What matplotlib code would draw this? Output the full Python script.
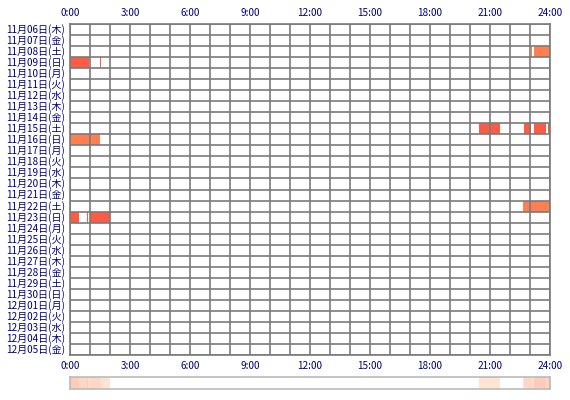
import numpy as np
import matplotlib
matplotlib.use("Agg")
import matplotlib.pyplot as plt

plt.rcParams['font.family'] = ['Noto Sans CJK JP', 'DejaVu Sans']

# ---- data ----
day_labels = [
    "11月06日(木)", "11月07日(金)", "11月08日(土)", "11月09日(日)", "11月10日(月)",
    "11月11日(火)", "11月12日(水)", "11月13日(木)", "11月14日(金)", "11月15日(土)",
    "11月16日(日)", "11月17日(月)", "11月18日(火)", "11月19日(水)", "11月20日(木)",
    "11月21日(金)", "11月22日(土)", "11月23日(日)", "11月24日(月)", "11月25日(火)",
    "11月26日(水)", "11月27日(木)", "11月28日(金)", "11月29日(土)", "11月30日(日)",
    "12月01日(月)", "12月02日(火)", "12月03日(水)", "12月04日(木)", "12月05日(金)",
]
time_ticks = [0, 3, 6, 9, 12, 15, 18, 21, 24]
time_labels = ["0:00", "3:00", "6:00", "9:00", "12:00", "15:00", "18:00", "21:00", "24:00"]

# sessions: day row index, start "H:MM", end "H:MM"
session_day   = [2, 2, 3, 3, 9, 9, 9, 9, 10, 16, 17, 17, 17]
session_start = ["23:03", "23:12", "0:00", "1:30", "20:27", "22:42", "23:12", "23:54",
                 "0:00", "22:39", "0:00", "0:51", "1:00"]
session_end   = ["23:06", "24:00", "0:57", "1:33", "21:30", "23:03", "23:48", "24:00",
                 "1:30", "24:00", "0:27", "0:54", "2:00"]
session_color = ["#FF7F50", "#FF7F50", "#FF5A44", "#FF5A44", "#FF5A44", "#FF5A44",
                 "#FF5A44", "#FF5A44", "#FF7F50", "#FF7F50", "#FF5A44", "#FF5A44", "#FF5A44"]

def to_min(s):
    h, m = s.split(":")
    return int(h) * 60 + int(m)

starts = np.array([to_min(s) for s in session_start])
ends = np.array([to_min(s) for s in session_end])

grid_col = "#7a7a7a"
text_col = "#000080"
fs = 7.2

fig = plt.figure(figsize=(5.7, 4.0), dpi=100)
ax = fig.add_axes([70/570, 1 - 355/400, 480/570, 331/400])
n = len(day_labels)
ax.set_xlim(0, 1440)
ax.set_ylim(n, 0)

ax.barh(np.array(session_day) + 0.5, ends - starts, left=starts, height=1.0,
        color=session_color, zorder=2, linewidth=0)

for h in range(25):
    ax.axvline(h * 60, color=grid_col, lw=1.2, zorder=3)
for r in range(n + 1):
    ax.axhline(r, color=grid_col, lw=1.2, zorder=3)
for s in ax.spines.values():
    s.set_color(grid_col)
    s.set_linewidth(1.2)

ax.set_xticks([])
ax.set_yticks([])
for i, lab in enumerate(day_labels):
    ax.text(-15, i + 0.5, lab, ha="right", va="center", fontsize=fs, color=text_col)
for t, lab in zip(time_ticks, time_labels):
    ax.text(t * 60, -0.55, lab, ha="center", va="bottom", fontsize=fs, color=text_col)
    ax.text(t * 60, n + 0.55, lab, ha="center", va="top", fontsize=fs, color=text_col)

# ---- summary strip ----
counts = np.zeros(1440, dtype=int)
for a, b in zip(starts, ends):
    counts[a:b] += 1
level_colors = {0: (1, 1, 1), 1: (1.0, 0.894, 0.831), 2: (1.0, 0.847, 0.784), 3: (1.0, 0.800, 0.735)}
img = np.array([[level_colors[min(c, 3)] for c in counts]])
ax2 = fig.add_axes([70/570, 1 - 389/400, 480/570, 12/400])
ax2.imshow(img, aspect="auto", extent=[0, 1440, 0, 1], interpolation="nearest")
ax2.set_xlim(0, 1440)
ax2.set_ylim(0, 1)
ax2.set_xticks([])
ax2.set_yticks([])
for s in ax2.spines.values():
    s.set_color("#BBBBBB")
    s.set_linewidth(1.2)

fig.savefig("out.png", dpi=100, facecolor="white")
